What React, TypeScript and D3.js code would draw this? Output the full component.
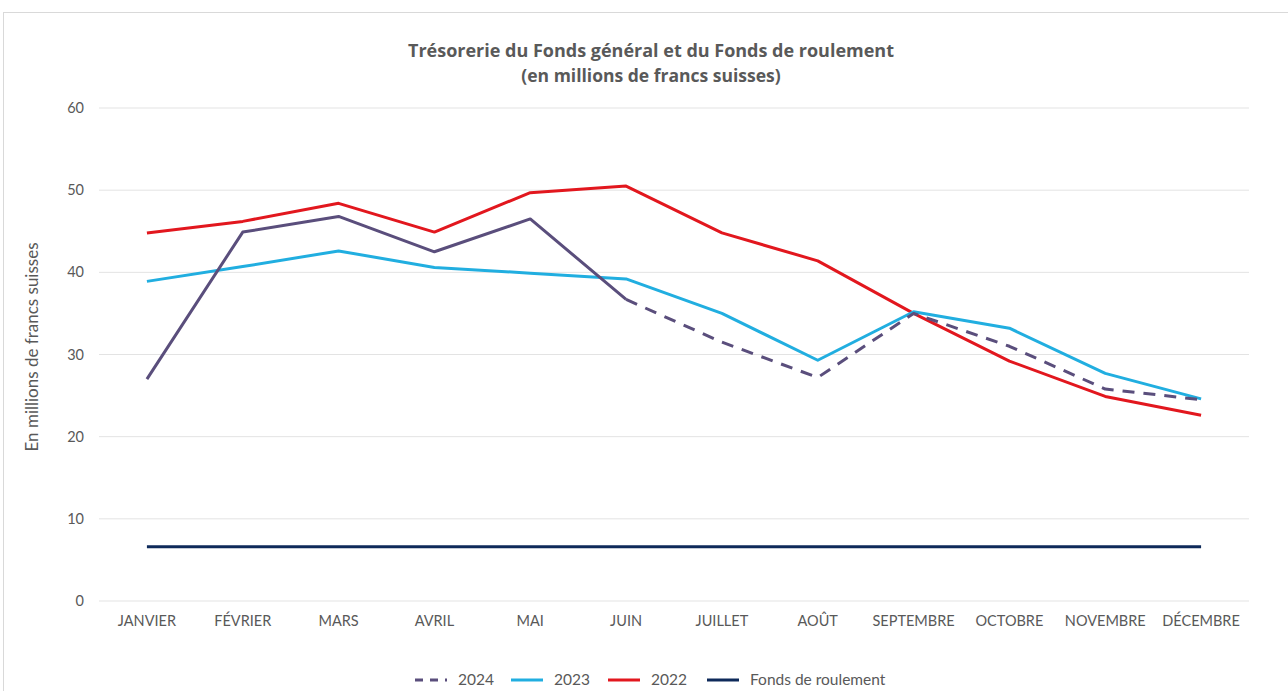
import React from "react";
import * as d3 from "d3";

const months = ["JANVIER", "FÉVRIER", "MARS", "AVRIL", "MAI", "JUIN", "JUILLET", "AOÛT", "SEPTEMBRE", "OCTOBRE", "NOVEMBRE", "DÉCEMBRE"];
const yTicks = [0, 10, 20, 30, 40, 50, 60];
const v2024 = [27.0, 44.9, 46.8, 42.5, 46.5, 36.7, 31.5, 27.2, 35.0, 31.0, 25.8, 24.5];
const v2024SolidUntil = 5; // index of JUIN: solid up to here, dashed after
const v2023 = [38.9, 40.7, 42.6, 40.6, 39.9, 39.2, 35.0, 29.3, 35.2, 33.2, 27.7, 24.6];
const v2022 = [44.8, 46.2, 48.4, 44.9, 49.7, 50.5, 44.8, 41.4, 35.0, 29.2, 24.9, 22.6];
const fondsRoulement = [6.6, 6.6, 6.6, 6.6, 6.6, 6.6, 6.6, 6.6, 6.6, 6.6, 6.6, 6.6];
const legendItems = [
  { label: "2024", color: "#5a4e7c", dash: "8,7" },
  { label: "2023", color: "#21aee0", dash: "" },
  { label: "2022", color: "#e2171e", dash: "" },
  { label: "Fonds de roulement", color: "#0e2a5a", dash: "" },
];

const W = 1288, H = 691;
const FONT = "Lato, 'Open Sans', sans-serif";

export default function App() {
  const x = d3.scaleBand<string>().domain(months).range([99, 1249]);
  const cx = (m: string) => (x(m) as number) + x.bandwidth() / 2;
  const y = d3.scaleLinear().domain([0, 60]).range([601, 108]);
  const line = d3.line<{ m: string; v: number }>().x((d) => cx(d.m)).y((d) => y(d.v));
  const pts = (arr: number[]) => arr.map((v, i) => ({ m: months[i], v }));
  const p2024 = pts(v2024);
  const legendX = [415, 511, 608, 707];
  return (
    <svg width={W} height={H} style={{ position: "absolute", left: 0, top: 0 }} fontFamily={FONT}>
      <rect x={0} y={0} width={W} height={H} fill="#fff" />
      <rect x={3.5} y={12.5} width={W} height={H} fill="#fff" stroke="#d9d9d9" />
      <g fontFamily="'Open Sans', sans-serif" fontSize={17.5} fontWeight={700} fill="#595959" textAnchor="middle">
        <text x={651} y={57} textLength={486} lengthAdjust="spacingAndGlyphs">
          Trésorerie du Fonds général et du Fonds de roulement
        </text>
        <text x={651} y={82}>
          (en millions de francs suisses)
        </text>
      </g>
      {yTicks.map((t) => (
        <g key={t}>
          <line x1={99} x2={1249} y1={y(t)} y2={y(t)} stroke="#e3e3e3" strokeWidth={1} />
          <text x={84} y={y(t)} dy="0.35em" textAnchor="end" fontSize={14.5} fill="#595959">{t}</text>
        </g>
      ))}
      {months.map((m) => (
        <text key={m} x={cx(m)} y={626} textAnchor="middle" fontSize={14.5} fill="#595959">{m}</text>
      ))}
      <text transform={`translate(38,347) rotate(-90)`} textAnchor="middle" fontSize={17} fill="#595959">
        En millions de francs suisses
      </text>
      <path d={line(pts(fondsRoulement)) || ""} fill="none" stroke="#0e2a5a" strokeWidth={3} />
      <path d={line(pts(v2022)) || ""} fill="none" stroke="#e2171e" strokeWidth={3} strokeLinejoin="round" />
      <path d={line(pts(v2023)) || ""} fill="none" stroke="#21aee0" strokeWidth={3} strokeLinejoin="round" />
      <path d={line(p2024.slice(0, v2024SolidUntil + 1)) || ""} fill="none" stroke="#5a4e7c" strokeWidth={3} strokeLinejoin="round" />
      <path d={line(p2024.slice(v2024SolidUntil)) || ""} fill="none" stroke="#5a4e7c" strokeWidth={3} strokeDasharray="12,9" strokeLinejoin="round" />
      {legendItems.map((it, i) => (
        <g key={it.label} transform={`translate(${legendX[i]},680)`}>
          <line x1={0} x2={32} y1={0} y2={0} stroke={it.color} strokeWidth={3} strokeDasharray={it.dash || undefined} />
          <text x={43} y={0} dy="0.35em" fontSize={15.5} fill="#595959">{it.label}</text>
        </g>
      ))}
    </svg>
  );
}
